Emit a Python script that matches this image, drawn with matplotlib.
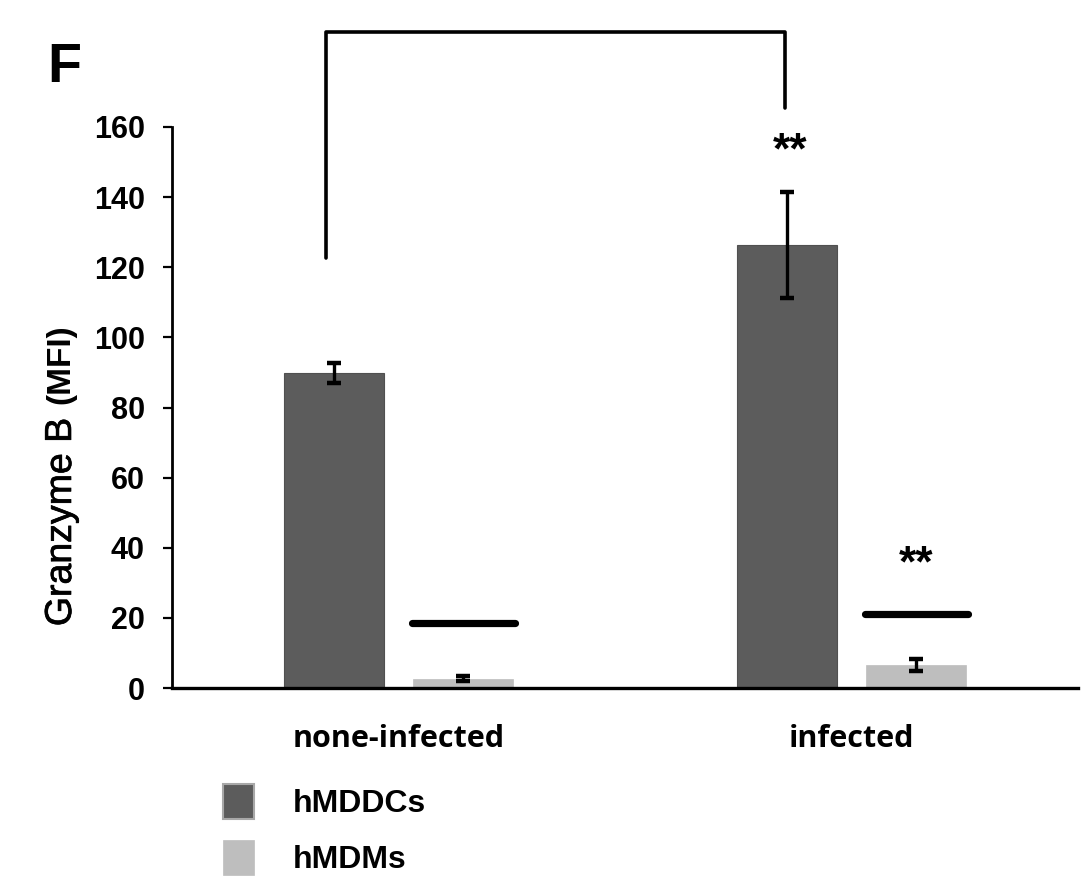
import matplotlib
matplotlib.use("Agg")
import matplotlib.pyplot as plt
import matplotlib.patheffects as pe
from matplotlib.patches import Patch
import numpy as np

# ---- data ----
categories = ["none-infected", "infected"]
series_names = ["hMDDCs", "hMDMs"]
hmddc_mean = [89.8, 126.4]
hmddc_err = [2.9, 15.1]
hmdm_mean = [2.6, 6.6]
hmdm_err = [0.7, 1.8]
ref_line_level = [18.5, 21.1]      # horizontal bars above the hMDMs columns
yticks = [0, 20, 40, 60, 80, 100, 120, 140, 160]

dark = "#5c5c5c"
light = "#bebebe"
sans = "Liberation Sans"

fig = plt.figure(figsize=(10.83, 8.77), dpi=100)
fig.patch.set_facecolor("white")
ax = fig.add_axes([172 / 1083, 1 - 688 / 877, 906 / 1083, 561 / 877])

x = np.arange(len(categories))
off = 0.143
w = 0.22

ax.bar(x - off, hmddc_mean, w, color=dark, edgecolor="#505050", linewidth=0.8, zorder=2)
ax.bar(x + off, hmdm_mean, w, color=light, edgecolor=light, linewidth=0.5, zorder=2)

err_kw = dict(fmt="none", ecolor="black", elinewidth=2.4, capsize=4.7, capthick=3.2, zorder=3)
ax.errorbar(x - off, hmddc_mean, yerr=hmddc_err, **err_kw)
ax.errorbar(x + off, hmdm_mean, yerr=hmdm_err, **err_kw)

# reference bars above the hMDMs columns
for xi, lvl in zip(x + off, ref_line_level):
    ax.plot([xi - 0.114, xi + 0.114], [lvl, lvl], color="black", lw=5.2,
            solid_capstyle="round", zorder=3)

# significance marks
ax.text(x[1] - off + 0.007, 149.5, "**", ha="center", va="baseline",
        fontsize=32, fontweight="bold", family=sans)
ax.text(x[1] + off, 31.9, "**", ha="center", va="baseline",
        fontsize=32, fontweight="bold", family=sans)

# bracket linking the two hMDDCs columns
ax.plot([x[0] - off - 0.018, x[0] - off - 0.018, x[1] - off - 0.004, x[1] - off - 0.004],
        [122.6, 187.1, 187.1, 165.4], color="black", lw=2.6,
        solid_joinstyle="round", solid_capstyle="round", clip_on=False, zorder=4)

ax.set_xlim(-0.5, 1.5)
ax.set_ylim(0, 160)
ax.set_yticks(yticks)
ax.set_yticklabels([str(t) for t in yticks], fontsize=22, fontweight="bold", family=sans)
ax.set_xticks(x)
ax.set_xticklabels(categories, fontsize=22, fontweight="bold", family="Open Sans")

ax.tick_params(axis="y", direction="out", length=6.5, width=1.6, pad=13)
ax.tick_params(axis="x", length=0, pad=26)

for side in ("top", "right"):
    ax.spines[side].set_visible(False)
ax.spines["left"].set_linewidth(2.0)
ax.spines["bottom"].set_linewidth(2.4)

# y-axis title
heavy = [pe.withStroke(linewidth=0.5, foreground="black")]
fig.text(61 / 1083, 1 - 522 / 877, "Granzyme B", rotation=90, ha="center", va="center",
         fontsize=27, family=sans, path_effects=heavy)
fig.text(61 / 1083, 1 - 364 / 877, "(MFI)", rotation=90, ha="center", va="center",
         fontsize=24, fontweight="bold", family=sans)

# panel letter
fig.text(47 / 1083, 1 - 82 / 877, "F", ha="left", va="baseline",
         fontsize=40, fontweight="bold", family=sans)

# legend
handles = [Patch(facecolor=dark, edgecolor="#a8a8a8", linewidth=1.5),
           Patch(facecolor=light, edgecolor=light, linewidth=0.5)]
leg = fig.legend(handles, series_names, loc="upper left",
                 bbox_to_anchor=(223 / 1083, 1 - 784 / 877),
                 frameon=False, borderpad=0, borderaxespad=0,
                 handlelength=0.97, handleheight=1.3, handletextpad=1.2,
                 labelspacing=0.65, prop=dict(family=sans, weight="bold", size=23))

fig.savefig("out.png", dpi=100, facecolor="white")
